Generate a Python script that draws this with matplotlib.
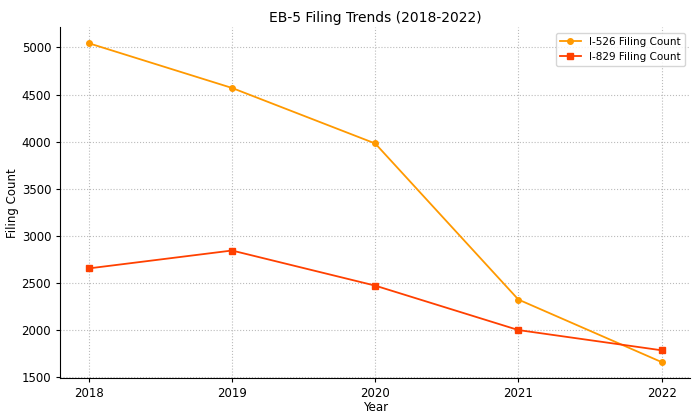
import matplotlib
matplotlib.use("Agg")
import matplotlib.pyplot as plt

years = [2018, 2019, 2020, 2021, 2022]
i526 = [5045, 4570, 3980, 2322, 1658]
i829 = [2653, 2843, 2470, 1998, 1783]

fig, ax = plt.subplots(figsize=(7, 4.2), dpi=100)
ax.plot(years, i526, marker='o', markersize=4, color='#FF9900', linewidth=1.3, label='I-526 Filing Count')
ax.plot(years, i829, marker='s', markersize=4, color='#FF4000', linewidth=1.3, label='I-829 Filing Count')

ax.set_title("EB-5 Filing Trends (2018-2022)", fontsize=10, pad=4)
ax.set_xlabel("Year", fontsize=8.5, labelpad=1)
ax.set_ylabel("Filing Count", fontsize=8.5, labelpad=2)
ax.set_xticks(years)
ax.tick_params(labelsize=8.5, length=3)
ax.grid(True, linestyle=':', color='#bbbbbb', linewidth=0.8)
ax.spines['top'].set_visible(False)
ax.spines['right'].set_visible(False)
ax.legend(loc='upper right', fontsize=7.5)

fig.subplots_adjust(left=0.086, right=0.986, top=0.935, bottom=0.1)
fig.savefig("out.png")
